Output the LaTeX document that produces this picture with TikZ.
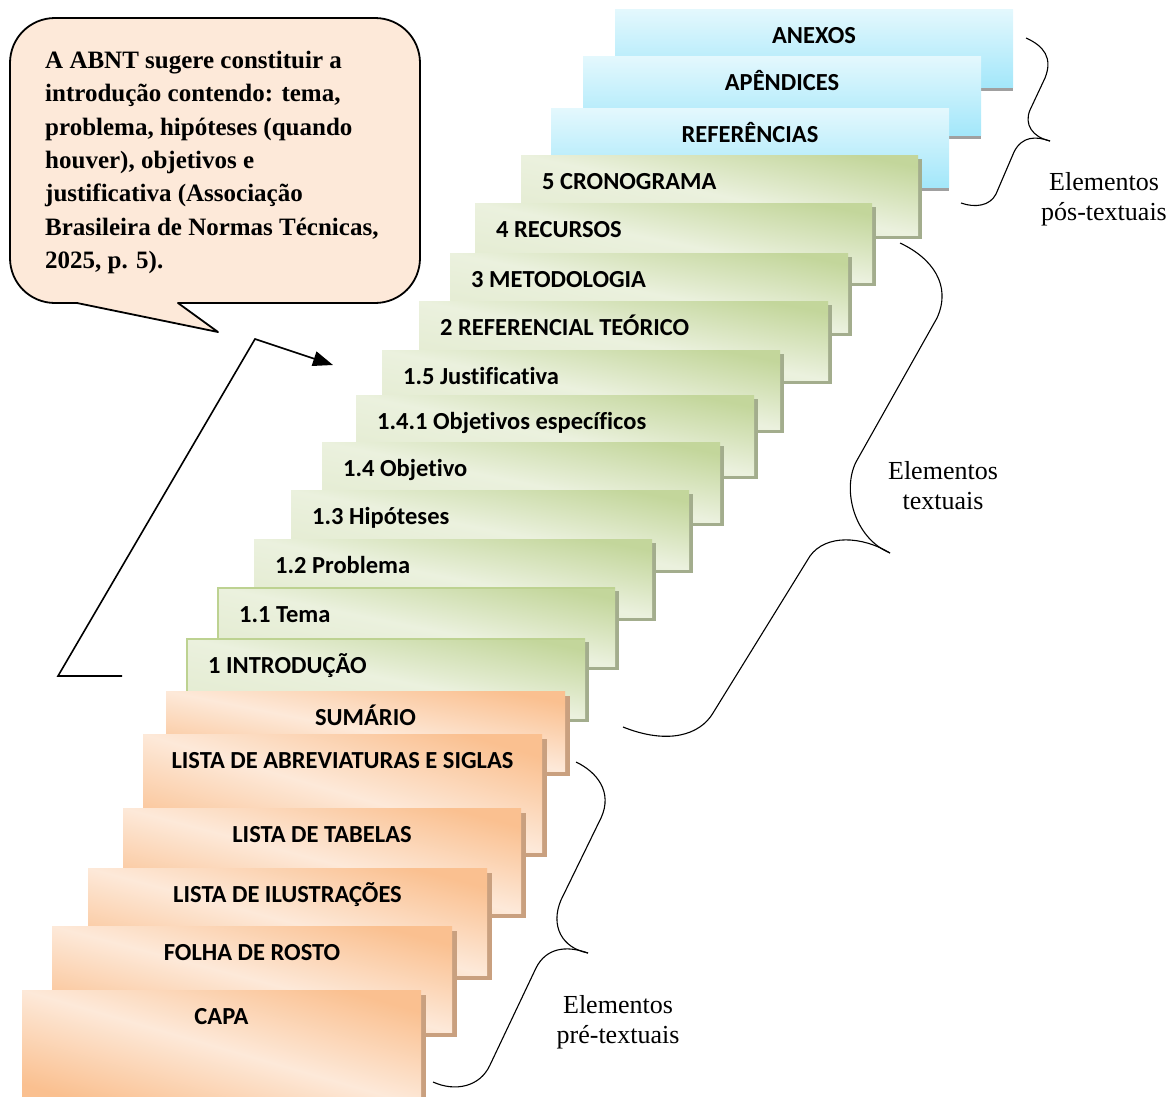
\documentclass[tikz,border=0pt]{standalone}
\usepackage{fontspec}
\setmainfont{Liberation Serif}
\newfontfamily\calibri{Carlito}[Ligatures=NoCommon]
\usetikzlibrary{arrows.meta}
\definecolor{gdark}{HTML}{C3D69B}
\definecolor{glight}{HTML}{EBF1DE}
\definecolor{gbottom}{HTML}{E3EBD0}
\definecolor{gshad}{HTML}{A3AD8D}
\definecolor{gline}{HTML}{BDD291}
\definecolor{odark}{HTML}{FAC090}
\definecolor{olight}{HTML}{FDE9D9}
\definecolor{oshad}{HTML}{C9A07F}
\definecolor{btop}{HTML}{E4F8FD}
\definecolor{bbot}{HTML}{A3E7FA}
\definecolor{bshad}{HTML}{A0A0A0}
\definecolor{callfill}{HTML}{FDE9D9}
\tikzset{
  lbl/.style={font=\calibri\bfseries\fontsize{24.5}{28}\selectfont, inner sep=0pt, text=black},
  gfill/.style={top color=gdark, bottom color=gbottom, middle color=glight},
  ofill/.style={top color=odark, bottom color=odark, middle color=olight},
  bfill/.style={top color=btop, bottom color=bbot},
  gedge/.style={draw=gline, line width=2pt},
  brace/.style={draw=black, line width=1.1pt},
  arrowline/.style={draw=black, line width=1.6pt, -{Triangle[length=20pt,width=15pt]}},
  callshape/.style={draw=black, line width=1.8pt, fill=callfill, line join=round},
  calltext/.style={font=\bfseries\fontsize{25}{33.3}\selectfont, align=left, inner sep=0pt, anchor=north west},
  elem/.style={font=\fontsize{26}{30}\selectfont, align=center, inner sep=0pt}
}
% left, top, right, bottom, name, text
\newcommand\greenstep[6]{%
  \pgfmathsetmacro\shang{-atan((#4-#2)/(#3-#1))}%
  \fill[gshad] (#1+4,#2+4) rectangle (#3+4,#4+4);
  \shade[gfill, shading angle=\shang] (#1,#2) rectangle (#3,#4);
  \node[lbl, anchor=base west] (#5) at (#1+21,#2+34) {#6};}
\newcommand\greenstepedge[6]{%
  \pgfmathsetmacro\shang{-atan((#4-#2)/(#3-#1))}%
  \fill[gshad] (#1+4,#2+4) rectangle (#3+4,#4+4);
  \shade[gfill, shading angle=\shang] (#1,#2) rectangle (#3,#4);
  \draw[gedge] (#3,#2+1) -- (#1+1,#2+1) -- (#1+1,#4);
  \node[lbl, anchor=base west] (#5) at (#1+22,#2+35) {#6};}
\newcommand\orangestep[6]{%
  \pgfmathsetmacro\shang{-atan((#4-#2)/(#3-#1))}%
  \fill[oshad] (#1+5,#2+5) rectangle (#3+5,#4+5);
  \shade[ofill, shading angle=\shang] (#1,#2) rectangle (#3,#4);
  \node[lbl, anchor=base] (#5) at ({(#1+#3)/2},#2+34) {#6};}
\newcommand\bluestep[6]{%
  \fill[bshad] (#1,#2+4) rectangle (#3,#4+4);
  \shade[bfill] (#1,#2) rectangle (#3,#4);
  \node[lbl, anchor=base] (#5) at ({(#1+#3)/2},#2+34) {#6};}
\begin{document}
\begin{tikzpicture}[x=1pt,y=-1pt]
\useasboundingbox (0,0) rectangle (1173,1096);
% post-textual
\bluestep{615}{9}{1013}{87}{anexos}{ANEXOS}
\bluestep{583}{56}{981}{135}{apendices}{APÊNDICES}
\bluestep{551}{108}{949}{187}{referencias}{REFERÊNCIAS}
% textual
\greenstep{521}{155}{918}{235}{cronograma}{5 CRONOGRAMA}
\greenstep{475}{203}{872}{282}{recursos}{4 RECURSOS}
\greenstep{450}{253}{848}{332}{metodologia}{3 METODOLOGIA}
\greenstep{419}{301}{828}{380}{referencial}{2 REFERENCIAL TEÓRICO}
\greenstep{382}{350}{780}{429}{justificativa}{1.5 Justificativa}
\greenstep{356}{395}{754}{475}{objesp}{1.4.1 Objetivos específicos}
\greenstep{322}{442}{720}{522}{objetivo}{1.4 Objetivo}
\greenstep{291}{490}{689}{569}{hipoteses}{1.3 Hipóteses}
\greenstep{254}{539}{652}{617}{problema}{1.2 Problema}
\greenstepedge{217}{587}{615}{666}{tema}{1.1 Tema}
\greenstepedge{186}{638}{585}{718}{introducao}{1 INTRODUÇÃO}
% pre-textual
\orangestep{166}{691}{565}{771}{sumario}{SUMÁRIO}
\orangestep{143}{734}{542}{852}{abrev}{LISTA DE ABREVIATURAS E SIGLAS}
\orangestep{123}{808}{521}{913}{tabelas}{LISTA DE TABELAS}
\orangestep{88}{868}{487}{975}{ilustracoes}{LISTA DE ILUSTRAÇÕES}
\orangestep{52}{926}{452}{1032}{folha}{FOLHA DE ROSTO}
\orangestep{22}{990}{421}{1106}{capa}{CAPA}
% braces
\draw[brace] (1026,38) .. controls (1044,46) and (1053,58) .. (1045,78) -- (1030,110) .. controls (1024,124) and (1032,137) .. (1050,141);
\draw[brace] (1050,141) .. controls (1036,136) and (1022,136) .. (1014,152) -- (996,194) .. controls (990,206) and (975,208) .. (961,203);
\draw[brace] (900,243) .. controls (932,258) and (952,285) .. (937,318) -- (856,462) .. controls (842,490) and (854,538) .. (890,553);
\draw[brace] (890,553) .. controls (862,536) and (826,534) .. (810,556) -- (713,713) .. controls (700,735) and (668,745) .. (623,727);
\draw[brace] (576,762) .. controls (597,772) and (613,792) .. (601,818) -- (561,900) .. controls (550,926) and (562,948) .. (588,953);
\draw[brace] (588,953) .. controls (566,945) and (546,948) .. (536,968) -- (490,1065) .. controls (480,1087) and (455,1092) .. (433,1082);
\node[elem] (postlbl) at (1104,199) {Elementos\\pós-textuais};
\node[elem] (textlbl) at (943,486) {Elementos\\textuais};
\node[elem] (prelbl) at (618,1022) {Elementos\\pré-textuais};
% callout
\path[callshape] (77,303) -- (55,303) .. controls (30,303) and (10,283) .. (10,258) -- (10,63)
  .. controls (10,38) and (30,18) .. (55,18) -- (375,18) .. controls (400,18) and (420,38) .. (420,63)
  -- (420,258) .. controls (420,283) and (400,303) .. (375,303) -- (178,303) -- (218,332) -- cycle;
\node[calltext] (callout) at (45,51) {A ABNT sugere constituir a\\introdução contendo: tema,\\problema, hipóteses (quando\\houver), objetivos e\\justificativa (Associação\\Brasileira de Normas Técnicas,\\2025, p. 5).};
% arrow
\coordinate (a0) at (122,676);
\coordinate (a1) at (58,676);
\coordinate (a2) at (255,339);
\coordinate (a3) at (333,365);
\draw[arrowline] (a0) -- (a1) -- (a2) -- (a3);
\end{tikzpicture}
\end{document}
